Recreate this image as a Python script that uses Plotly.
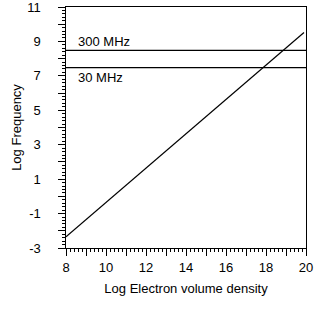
import plotly.graph_objects as go

density = [8, 19.9]
frequency = [-2.35, 9.52]
band_names = ["300 MHz", "30 MHz"]
band_levels = [8.477, 7.477]
label_y = [9.02, 6.88]
x_ticks = list(range(8, 21))
x_labels = [str(v) if v % 2 == 0 else "" for v in x_ticks]
y_ticks = list(range(-3, 12))
pad = "\u00a0" * 4
y_labels = [str(v) + pad if v % 2 == 1 else "" for v in y_ticks]

fig = go.Figure()
fig.add_trace(go.Scatter(x=density, y=frequency, mode="lines",
                         line=dict(color="black", width=1.2), showlegend=False,
                         hoverinfo="skip"))
for lvl in band_levels:
    fig.add_trace(go.Scatter(x=[8, 20], y=[lvl, lvl], mode="lines",
                             line=dict(color="black", width=1.2), showlegend=False,
                             hoverinfo="skip"))
for name, ly in zip(band_names, label_y):
    fig.add_annotation(x=8.5, y=ly, text=name, showarrow=False, xanchor="left",
                       font=dict(size=13, color="black"))

font = dict(family="Liberation Sans, Arial, sans-serif", size=13, color="black")
fig.update_layout(
    width=315, height=327, margin=dict(l=66, r=9, t=7, b=79, autoexpand=False),
    paper_bgcolor="white", plot_bgcolor="white", font=font, hovermode=False,
    xaxis=dict(range=[8, 20], tickvals=x_ticks, ticktext=x_labels, ticks="outside",
               ticklen=7, tickcolor="black", tickwidth=1, showline=True, linecolor="black",
               linewidth=1.2, mirror=True, showgrid=False, zeroline=False,
               ticklabeloverflow="allow",
               minor=dict(dtick=0.2, ticks="outside", ticklen=3, tickcolor="black"),
               title=dict(text="Log Electron volume density", standoff=10,
                          font=dict(size=13, color="black"))),
    yaxis=dict(range=[-3, 11], tickvals=y_ticks, ticktext=y_labels, ticks="outside",
               ticklen=7, tickcolor="black", tickwidth=1, showline=True, linecolor="black",
               linewidth=1.2, mirror=True, showgrid=False, zeroline=False,
               ticklabeloverflow="allow",
               minor=dict(dtick=0.2, ticks="outside", ticklen=3, tickcolor="black"),
               title=dict(text="Log Frequency", standoff=2,
                          font=dict(size=13, color="black"))),
)
fig.write_html("out.html", config={"displayModeBar": False, "staticPlot": True},
               post_script="document.body.style.margin='0px';")
